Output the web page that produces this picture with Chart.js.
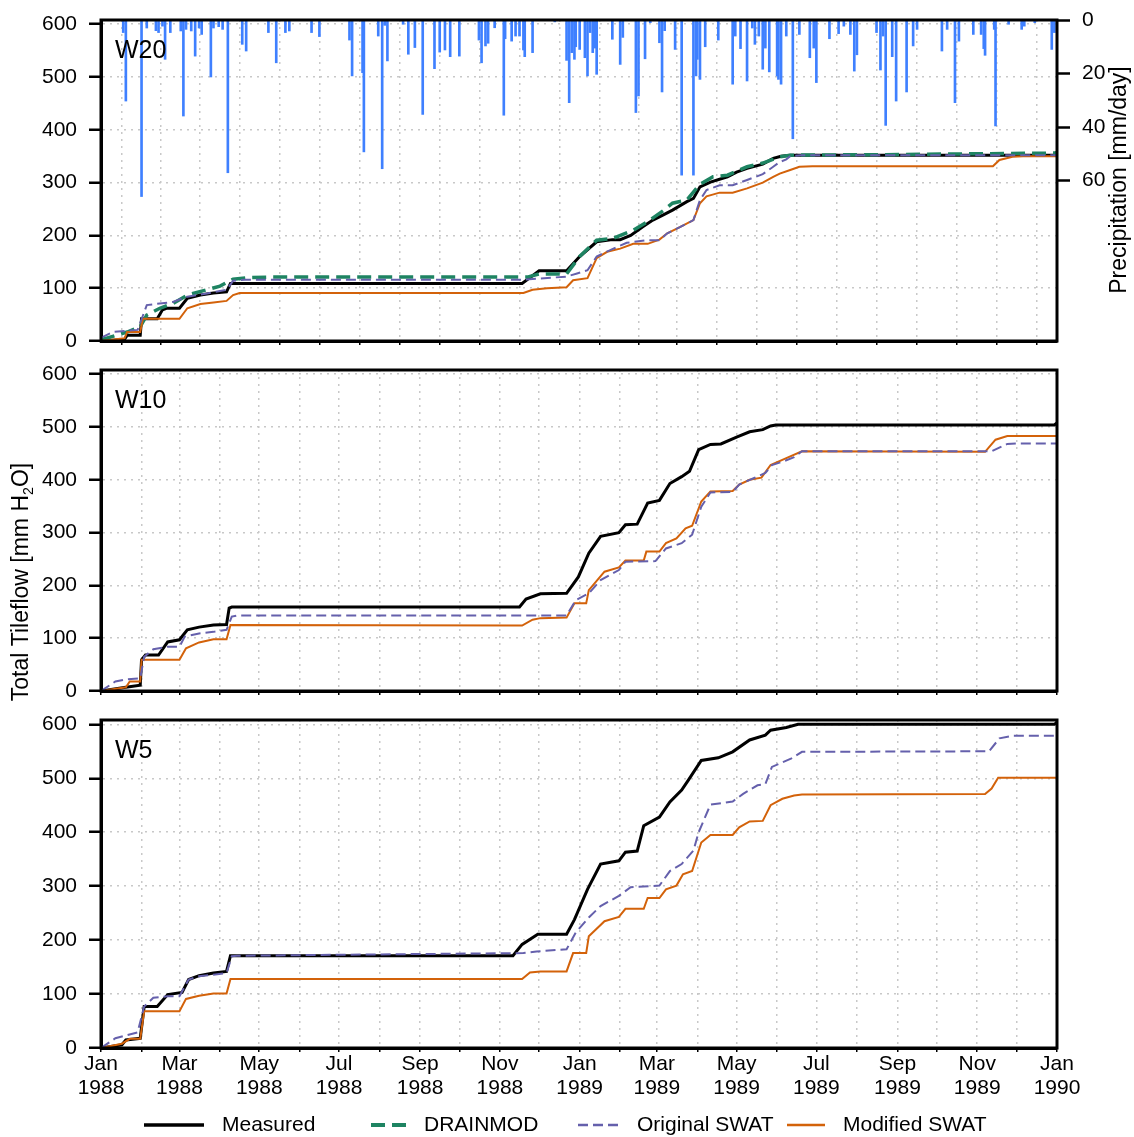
<!DOCTYPE html>
<html>
<head>
<meta charset="utf-8">
<script src="https://cdn.jsdelivr.net/npm/chart.js@4.4.0/dist/chart.umd.min.js"></script>
<style>
  html, body { margin: 0; padding: 0; background: #fff; }
  #wrap { position: relative; width: 1134px; height: 1137px; }
  canvas { position: absolute; left: 0; }
</style>
</head>
<body>
<div id="wrap">
  <canvas id="c1" width="1134" height="360" style="top:0px"></canvas>
  <canvas id="c2" width="1134" height="360" style="top:350px"></canvas>
  <canvas id="c3" width="1134" height="437" style="top:700px"></canvas>
</div>
<script>
// x values are days since 1 Jan 1988
const monthDays = [0, 31, 60, 91, 121, 152, 182, 213, 244, 274, 305, 335,
  366, 397, 425, 456, 486, 517, 547, 578, 609, 639, 670, 700, 731];
const monthNames = ["Jan", "Feb", "Mar", "Apr", "May", "Jun", "Jul", "Aug", "Sep", "Oct", "Nov", "Dec"];
const flowTicks = [0, 100, 200, 300, 400, 500, 600];
const rainTicks = [0, 20, 40, 60];

// daily precipitation (mm/day)
const rainDay = [17, 19, 31, 35, 42, 44, 47, 49, 53, 61, 63, 65, 69, 72, 75, 77, 84, 86, 90, 93, 97, 108, 111, 128, 134, 141, 144,
  161, 167, 190, 192, 200, 201, 212, 215, 217, 219, 231, 235, 240, 246, 255, 259, 263, 267, 274, 289, 291,
  294, 296, 301, 308, 309, 314, 317, 320, 323, 324, 330, 347, 356, 358, 360, 362, 363, 366, 370, 372, 374, 376, 378, 379,
  391, 397, 399, 409, 411, 416, 420, 427, 429, 431, 439,
  444, 453, 455, 456, 458, 462, 472, 483, 485, 489, 494, 498, 500, 503, 506, 508, 511, 517, 518, 520, 524, 529, 534,
  542, 545, 547, 557, 564, 568, 573, 576, 578,
  593, 596, 598, 600, 605, 608, 616, 621, 624, 643, 647, 653, 656, 667, 673, 675, 676, 683, 684, 694, 704, 706, 714, 727, 729];
const rainMm = [4.7, 30.3, 66, 3, 4, 4.7, 2.3, 14.7, 4.7, 4.1, 35.9, 3.5, 4.1, 13.5, 3, 5.4, 21.3, 3, 2.5, 3.5, 57.1, 9.1, 11.6, 4.7, 16, 4.7, 4.1,
  4.7, 6.2, 7.5, 20.9, 19.7, 49.3, 6, 55.6, 2, 15.3, 1.6, 12.8, 10.3, 35.3, 18.2, 12, 11.2, 13.7, 13.5, 7.5, 16,
  9.7, 8.7, 2.9, 35.6, 7, 7.9, 6, 6, 11.2, 13.7, 12.2, 0.7, 15.1, 30.9, 12.2, 14.7, 10, 11, 14.1, 20.9, 4.7, 12.2, 10.5, 20.3,
  7.2, 16.6, 6.5, 34.6, 28.4, 14.5, 1, 8.5, 26.9, 4, 11,
  58, 58, 20.9, 14.7, 22.2, 10, 7.5, 24, 6, 10.7, 22.8, 3, 9.1, 6, 18.4, 10.5, 19.4, 20.9, 22.2, 24, 6, 44.4, 5.4,
  14.1, 10.5, 23.4, 7, 5.1, 2.3, 5.4, 19.1, 13,
  4.7, 18.7, 6, 39.4, 13.7, 30.3, 26.9, 9.7, 3.5, 11.6, 3.5, 30.9, 7.9, 5.4, 5.4, 10.7, 13.2, 3.5, 39.6, 1.6, 3.5, 2.3, 1, 11, 4.7];

// cumulative tile flow [day, mm]
const w20Measured = [[0, 0], [18, 3], [20, 11], [30, 11], [31, 42], [43, 42], [47, 59], [50, 62], [60, 62], [66, 81], [76, 87],
  [86, 91], [96, 93], [99, 109], [322, 109], [335, 133], [356, 133], [366, 160], [379, 188], [391, 192], [397, 192],
  [405, 200], [414, 216], [422, 229], [430, 239], [437, 248], [448, 264], [453, 270], [458, 292], [466, 301], [479, 311],
  [486, 320], [494, 327], [506, 335], [514, 346], [520, 350], [527, 352], [729, 352], [731, 358]];
const w20Drainmod = [[0, 2], [20, 17], [30, 27], [35, 49], [45, 62], [55, 71], [66, 87], [81, 97], [91, 104], [101, 117],
  [112, 120], [130, 121], [326, 121], [335, 127], [356, 127], [366, 160], [379, 191], [391, 194], [407, 210], [418, 226],
  [430, 247], [437, 261], [448, 267], [458, 297], [468, 311], [479, 314], [494, 330], [506, 337], [519, 349], [527, 352],
  [600, 353], [731, 356]];
const w20Original = [[0, 6], [9, 17], [28, 21], [35, 68], [55, 74], [66, 84], [81, 90], [96, 97], [101, 114], [110, 116],
  [323, 116], [356, 122], [364, 128], [372, 134], [379, 160], [391, 174], [402, 186], [417, 191], [427, 191], [433, 204],
  [443, 216], [453, 229], [458, 267], [463, 286], [473, 295], [483, 295], [494, 305], [506, 316], [514, 330], [519, 339],
  [524, 344], [527, 350], [535, 352], [731, 352]];
const w20Modified = [[0, 0], [18, 5], [20, 17], [30, 17], [32, 42], [60, 42], [66, 62], [76, 70], [86, 73], [96, 76],
  [101, 87], [106, 91], [323, 91], [330, 97], [341, 100], [356, 102], [361, 115], [372, 119], [379, 157], [387, 169],
  [397, 175], [407, 184], [418, 184], [427, 192], [433, 204], [443, 216], [453, 229], [458, 261], [463, 274], [473, 281],
  [483, 281], [494, 289], [506, 300], [514, 311], [519, 317], [527, 324], [534, 330], [544, 331], [682, 331], [687, 343],
  [697, 349], [705, 350], [731, 350]];

const w10Measured = [[0, 0], [19, 7], [30, 11], [31, 59], [34, 68], [44, 68], [51, 93], [60, 97], [66, 116], [75, 121],
  [86, 125], [96, 126], [98, 157], [100, 159], [320, 159], [325, 174], [336, 184], [356, 185], [365, 216], [373, 261],
  [382, 293], [396, 300], [401, 315], [410, 316], [418, 356], [427, 361], [435, 393], [444, 406], [450, 416], [457, 457],
  [466, 467], [474, 468], [486, 481], [496, 491], [506, 495], [512, 502], [516, 504], [729, 504], [731, 508]];
const w10Original = [[0, 0], [11, 18], [19, 22], [30, 24], [33, 65], [40, 79], [51, 84], [60, 84], [64, 103], [75, 109],
  [86, 112], [96, 116], [100, 141], [104, 143], [356, 143], [363, 172], [373, 185], [382, 210], [396, 229], [401, 245],
  [424, 246], [432, 270], [444, 280], [452, 296], [459, 349], [466, 376], [483, 377], [488, 391], [499, 403], [508, 413],
  [513, 428], [522, 435], [530, 443], [536, 454], [681, 454], [693, 468], [700, 469], [731, 469]];
const w10Modified = [[0, 0], [19, 7], [22, 18], [30, 18], [31, 59], [60, 59], [65, 81], [75, 92], [86, 98], [96, 98],
  [99, 125], [322, 124], [330, 135], [336, 138], [356, 139], [362, 166], [371, 166], [373, 191], [385, 226], [396, 234],
  [401, 247], [415, 247], [417, 264], [427, 264], [432, 280], [440, 289], [447, 308], [452, 313], [459, 359], [466, 378],
  [483, 379], [488, 391], [496, 400], [505, 404], [512, 428], [524, 441], [536, 454], [676, 453], [684, 476], [693, 483],
  [731, 483]];

const w5Measured = [[0, 0], [16, 6], [19, 15], [30, 18], [33, 77], [43, 77], [51, 99], [62, 103], [67, 127], [75, 134],
  [86, 139], [96, 142], [99, 171], [315, 171], [322, 192], [334, 211], [356, 211], [362, 238], [372, 294], [382, 341],
  [396, 347], [401, 363], [410, 365], [415, 412], [427, 428], [435, 456], [444, 478], [449, 496], [459, 533], [472, 538],
  [483, 549], [496, 571], [508, 580], [512, 589], [524, 594], [533, 600], [729, 600], [731, 604]];
const w5Original = [[0, 0], [11, 18], [28, 29], [33, 77], [40, 93], [51, 96], [60, 96], [67, 127], [75, 133], [86, 136],
  [96, 139], [100, 170], [104, 171], [323, 176], [333, 179], [356, 183], [363, 214], [373, 242], [382, 263], [396, 282],
  [405, 298], [427, 301], [435, 328], [444, 341], [453, 366], [457, 400], [466, 451], [483, 457], [491, 471], [502, 487],
  [508, 489], [513, 521], [528, 537], [536, 549], [679, 550], [687, 574], [698, 579], [731, 579]];
const w5Modified = [[0, 0], [16, 8], [22, 17], [30, 17], [33, 68], [60, 68], [65, 91], [75, 97], [86, 101], [96, 101],
  [99, 128], [322, 128], [328, 140], [336, 142], [356, 142], [361, 176], [371, 176], [373, 207], [385, 235], [396, 243],
  [401, 258], [415, 258], [418, 278], [427, 278], [432, 294], [440, 301], [445, 322], [452, 328], [459, 381], [466, 395],
  [483, 395], [488, 409], [496, 420], [506, 421], [512, 450], [521, 462], [530, 468], [536, 470], [676, 471], [681, 481],
  [686, 501], [731, 501]];

const FONT = "'Liberation Sans', Arial, Helvetica, sans-serif";
Chart.defaults.font.family = FONT;
Chart.defaults.font.size = 21;
Chart.defaults.color = "#000";

const series = {
  measured: { label: "Measured", color: "#000000", width: 3, dash: [] },
  drainmod: { label: "DRAINMOD", color: "#1E8462", width: 3.5, dash: [14, 7] },
  original: { label: "Original SWAT", color: "#6560AC", width: 2, dash: [10, 5] },
  modified: { label: "Modified SWAT", color: "#D3620A", width: 2, dash: [] },
};

function line(key, data, order) {
  const s = series[key];
  return {
    type: "line", label: s.label, data: data.map(p => ({ x: p[0], y: p[1] })),
    borderColor: s.color, borderWidth: s.width, borderDash: s.dash,
    pointRadius: 0, tension: 0, fill: false, order: order, yAxisID: "y"
  };
}

function drawRotated(ctx, cx, cy, parts, size) {
  ctx.save();
  ctx.translate(cx, cy);
  ctx.rotate(-Math.PI / 2);
  ctx.textBaseline = "middle";
  ctx.textAlign = "left";
  ctx.fillStyle = "#000";
  let total = 0;
  const widths = parts.map(p => {
    ctx.font = (p.sub ? size * 0.62 : size) + "px " + FONT;
    const w = ctx.measureText(p.t).width;
    total += w;
    return w;
  });
  let x = -total / 2;
  parts.forEach((p, i) => {
    ctx.font = (p.sub ? size * 0.62 : size) + "px " + FONT;
    ctx.fillText(p.t, x, p.sub ? size * 0.32 : 0);
    x += widths[i];
  });
  ctx.restore();
}

const panelDecor = {
  id: "panelDecor",
  afterDatasetsDraw(chart, args, opts) {
    const a = chart.chartArea, ctx = chart.ctx;
    ctx.save();
    ctx.strokeStyle = "#000";
    ctx.lineWidth = 3;
    ctx.strokeRect(a.left, a.top, a.right - a.left, a.bottom - a.top);
    ctx.fillStyle = "#000";
    ctx.font = "25px " + FONT;
    ctx.textBaseline = "alphabetic";
    ctx.fillText(opts.name, a.left + 14, a.top + 38);
    ctx.restore();
    if (opts.leftTitle) drawRotated(ctx, opts.leftTitle.x, opts.leftTitle.y, opts.leftTitle.parts, 23);
    if (opts.rightTitle) drawRotated(ctx, opts.rightTitle.x, opts.rightTitle.y, opts.rightTitle.parts, 23);
    if (opts.legend) {
      const keys = ["measured", "drainmod", "original", "modified"];
      const starts = [144, 371, 578, 787];
      const lens = [60, 35, 41, 38];
      const y = opts.legend.y;
      keys.forEach((k, i) => {
        const s = series[k];
        ctx.save();
        ctx.strokeStyle = s.color;
        ctx.lineWidth = k === "measured" ? 3.5 : (k === "drainmod" ? 4 : 2.5);
        ctx.setLineDash(s.dash);
        ctx.beginPath();
        ctx.moveTo(starts[i], y);
        ctx.lineTo(starts[i] + lens[i], y);
        ctx.stroke();
        ctx.setLineDash([]);
        ctx.fillStyle = "#000";
        ctx.font = "21px " + FONT;
        ctx.textBaseline = "middle";
        ctx.fillText(s.label, starts[i] + lens[i] + 18, y);
        ctx.restore();
      });
    }
  }
};

function scales(axisHeight, showLabels) {
  return {
    x: {
      type: "linear", min: 0, max: 731, offset: false,
      afterBuildTicks: sc => { sc.ticks = monthDays.map(v => ({ value: v })); },
      afterFit: sc => { sc.height = axisHeight; sc.paddingLeft = 0; sc.paddingRight = 0; },
      grid: { color: "#c8c8c8", lineWidth: 1.5, tickLength: 4, tickColor: "#000", tickWidth: 1.5 },
      border: { color: "#000", width: 3, dash: [2, 5] },
      ticks: {
        display: showLabels, autoSkip: false, maxRotation: 0, minRotation: 0, padding: 0,
        font: { size: 21, lineHeight: 1.15 },
        callback: (v, i) => i % 2 === 0 ? [monthNames[i % 12], String(1988 + Math.floor(i / 12))] : ""
      }
    },
    y: {
      type: "linear", min: 0, max: 608,
      afterBuildTicks: sc => { sc.ticks = flowTicks.map(v => ({ value: v })); },
      afterFit: sc => { sc.width = 101; sc.paddingTop = 0; sc.paddingBottom = 0; },
      grid: { color: "#c8c8c8", lineWidth: 1.5, tickLength: 12, tickColor: "#000", tickWidth: 2.5 },
      border: { color: "#000", width: 3, dash: [2, 5] },
      ticks: { padding: 12, font: { size: 21 } }
    }
  };
}

function baseOptions(sc, decor, padRight) {
  return {
    responsive: false, animation: false, events: [],
    layout: { padding: { top: 20, left: 0, right: padRight, bottom: 0 } },
    scales: sc,
    plugins: { legend: { display: false }, tooltip: { enabled: false }, panelDecor: decor }
  };
}

// W20 with precipitation on a reversed right axis
const sc1 = scales(19, false);
sc1.y2 = {
  type: "linear", position: "right", reverse: true, min: 0, max: 120,
  afterBuildTicks: sc => { sc.ticks = rainTicks.map(v => ({ value: v })); },
  afterFit: sc => { sc.width = 77; sc.paddingTop = 0; sc.paddingBottom = 0; },
  grid: { drawOnChartArea: false, tickLength: 13, tickColor: "#000", tickWidth: 2.5 },
  border: { display: false },
  ticks: { padding: 12, font: { size: 21 } }
};
new Chart(document.getElementById("c1"), {
  type: "line",
  data: {
    datasets: [
      line("measured", w20Measured, 3),
      line("drainmod", w20Drainmod, 2),
      line("original", w20Original, 0),
      line("modified", w20Modified, 1),
      {
        type: "bar", label: "Precipitation", data: rainDay.map((d, i) => ({ x: d, y: rainMm[i] })),
        xAxisID: "x", yAxisID: "y2", backgroundColor: "#3F80FF", borderWidth: 0,
        barThickness: 2, grouped: false, order: 5
      }
    ]
  },
  options: baseOptions(sc1, {
    name: "W20",
    rightTitle: { x: 1120, y: 180, parts: [{ t: "Precipitation [mm/day]" }] }
  }, 0),
  plugins: [panelDecor]
});

// W10
new Chart(document.getElementById("c2"), {
  type: "line",
  data: {
    datasets: [
      line("measured", w10Measured, 3),
      line("original", w10Original, 0),
      line("modified", w10Modified, 1)
    ]
  },
  options: baseOptions(scales(19, false), {
    name: "W10",
    leftTitle: { x: 22, y: 232, parts: [{ t: "Total Tileflow [mm H" }, { t: "2", sub: true }, { t: "O]" }] }
  }, 77),
  plugins: [panelDecor]
});

// W5
new Chart(document.getElementById("c3"), {
  type: "line",
  data: {
    datasets: [
      line("measured", w5Measured, 3),
      line("original", w5Original, 0),
      line("modified", w5Modified, 1)
    ]
  },
  options: baseOptions(scales(89, true), { name: "W5", legend: { y: 425 } }, 77),
  plugins: [panelDecor]
});
</script>
</body>
</html>
